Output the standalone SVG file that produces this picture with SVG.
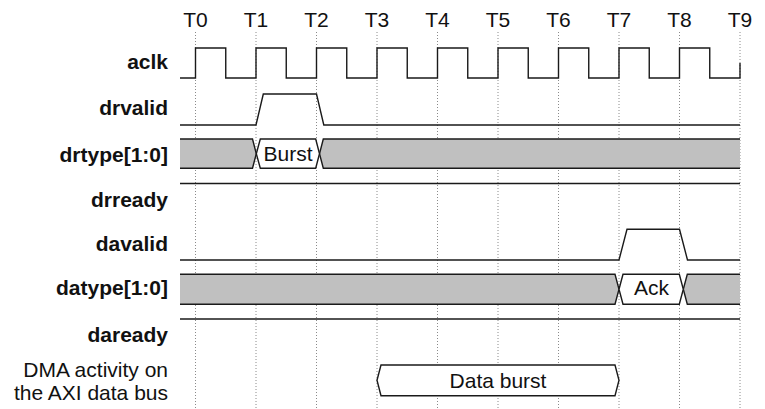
<svg xmlns="http://www.w3.org/2000/svg" width="765" height="409" viewBox="0 0 765 409">
<style>
text{font-family:"Liberation Sans",Arial,sans-serif;font-size:21px;fill:#111}
.lbl{font-weight:bold;text-anchor:end}
.nl{text-anchor:end}
.tm{text-anchor:middle}
.grid{stroke:#8a8a8a;stroke-width:1;stroke-dasharray:1,2;fill:none}
.sig{stroke:#1a1a1a;stroke-width:1.4;fill:none;stroke-linejoin:miter}
.bus{fill:#c0c0c0;stroke:none}
.val{fill:#fff;stroke:#1a1a1a;stroke-width:1.4}
</style>
<rect width="765" height="409" fill="#fff"/>
<g id="grid">
<path class="grid" d="M195.5,32V409M256,32V409M316.5,32V409M377,32V409M437.5,32V409M498,32V409M558.5,32V409M619,32V409M679.5,32V409M740,32V409"/>
</g>
<g id="time-labels">
<text class="tm" x="195.5" y="27">T0</text>
<text class="tm" x="256" y="27">T1</text>
<text class="tm" x="316.5" y="27">T2</text>
<text class="tm" x="377" y="27">T3</text>
<text class="tm" x="437.5" y="27">T4</text>
<text class="tm" x="498" y="27">T5</text>
<text class="tm" x="558.5" y="27">T6</text>
<text class="tm" x="619" y="27">T7</text>
<text class="tm" x="679.5" y="27">T8</text>
<text class="tm" x="740" y="27">T9</text>
</g>
<g id="aclk">
<text class="lbl" x="168" y="69">aclk</text>
<path class="sig" d="M180,78H195.5V48H225.75V78H256V48H286.25V78H316.5V48H346.75V78H377V48H407.25V78H437.5V48H467.75V78H498V48H528.25V78H558.5V48H588.75V78H619V48H649.25V78H679.5V48H709.75V78H740V63"/>
</g>
<g id="drvalid">
<text class="lbl" x="168" y="115">drvalid</text>
<path class="sig" d="M180,125H256L263.3,94H316.5L323.8,125H740"/>
</g>
<g id="drtype">
<text class="lbl" x="168" y="161.5">drtype[1:0]</text>
<polygon class="bus" points="180,139 252.5,139 256.3,153.7 252.5,168.3 180,168.3"/>
<polygon class="bus" points="740,139 323.3,139 319.5,153.7 323.3,168.3 740,168.3"/>
<path class="sig" d="M180,139H252.5L256.3,153.7L252.5,168.3H180M740,139H323.3L319.5,153.7L323.3,168.3H740"/>
<polygon class="val" points="256.3,153.7 260.3,139 315.7,139 319.5,153.7 315.7,168.3 260.3,168.3"/>
<text class="tm" x="288" y="161">Burst</text>
</g>
<g id="drready">
<text class="lbl" x="168" y="207">drready</text>
<path class="sig" d="M180,183.5H740"/>
</g>
<g id="davalid">
<text class="lbl" x="168" y="250.5">davalid</text>
<path class="sig" d="M180,260H619L627,229.3H679.5L687.5,260H740"/>
</g>
<g id="datype">
<text class="lbl" x="168" y="294.5">datype[1:0]</text>
<polygon class="bus" points="180,274.3 615,274.3 619,289.3 615,304.3 180,304.3"/>
<polygon class="bus" points="740,274.3 687.3,274.3 683.3,289.3 687.3,304.3 740,304.3"/>
<path class="sig" d="M180,274.3H615L619,289.3L615,304.3H180M740,274.3H687.3L683.3,289.3L687.3,304.3H740"/>
<polygon class="val" points="619,289.3 623,274.3 679.3,274.3 683.3,289.3 679.3,304.3 623,304.3"/>
<text class="tm" x="651.5" y="295">Ack</text>
</g>
<g id="daready">
<text class="lbl" x="168" y="341.5">daready</text>
<path class="sig" d="M180,319H740"/>
</g>
<g id="dma-activity">
<text class="nl" x="168" y="377">DMA activity on</text>
<text class="nl" x="168" y="400">the AXI data bus</text>
<polygon class="val" points="377,380.3 381,365 615,365 619,380.3 615,395.7 381,395.7"/>
<text class="tm" x="498" y="388">Data burst</text>
</g>
<g id="connectors"></g>
</svg>
